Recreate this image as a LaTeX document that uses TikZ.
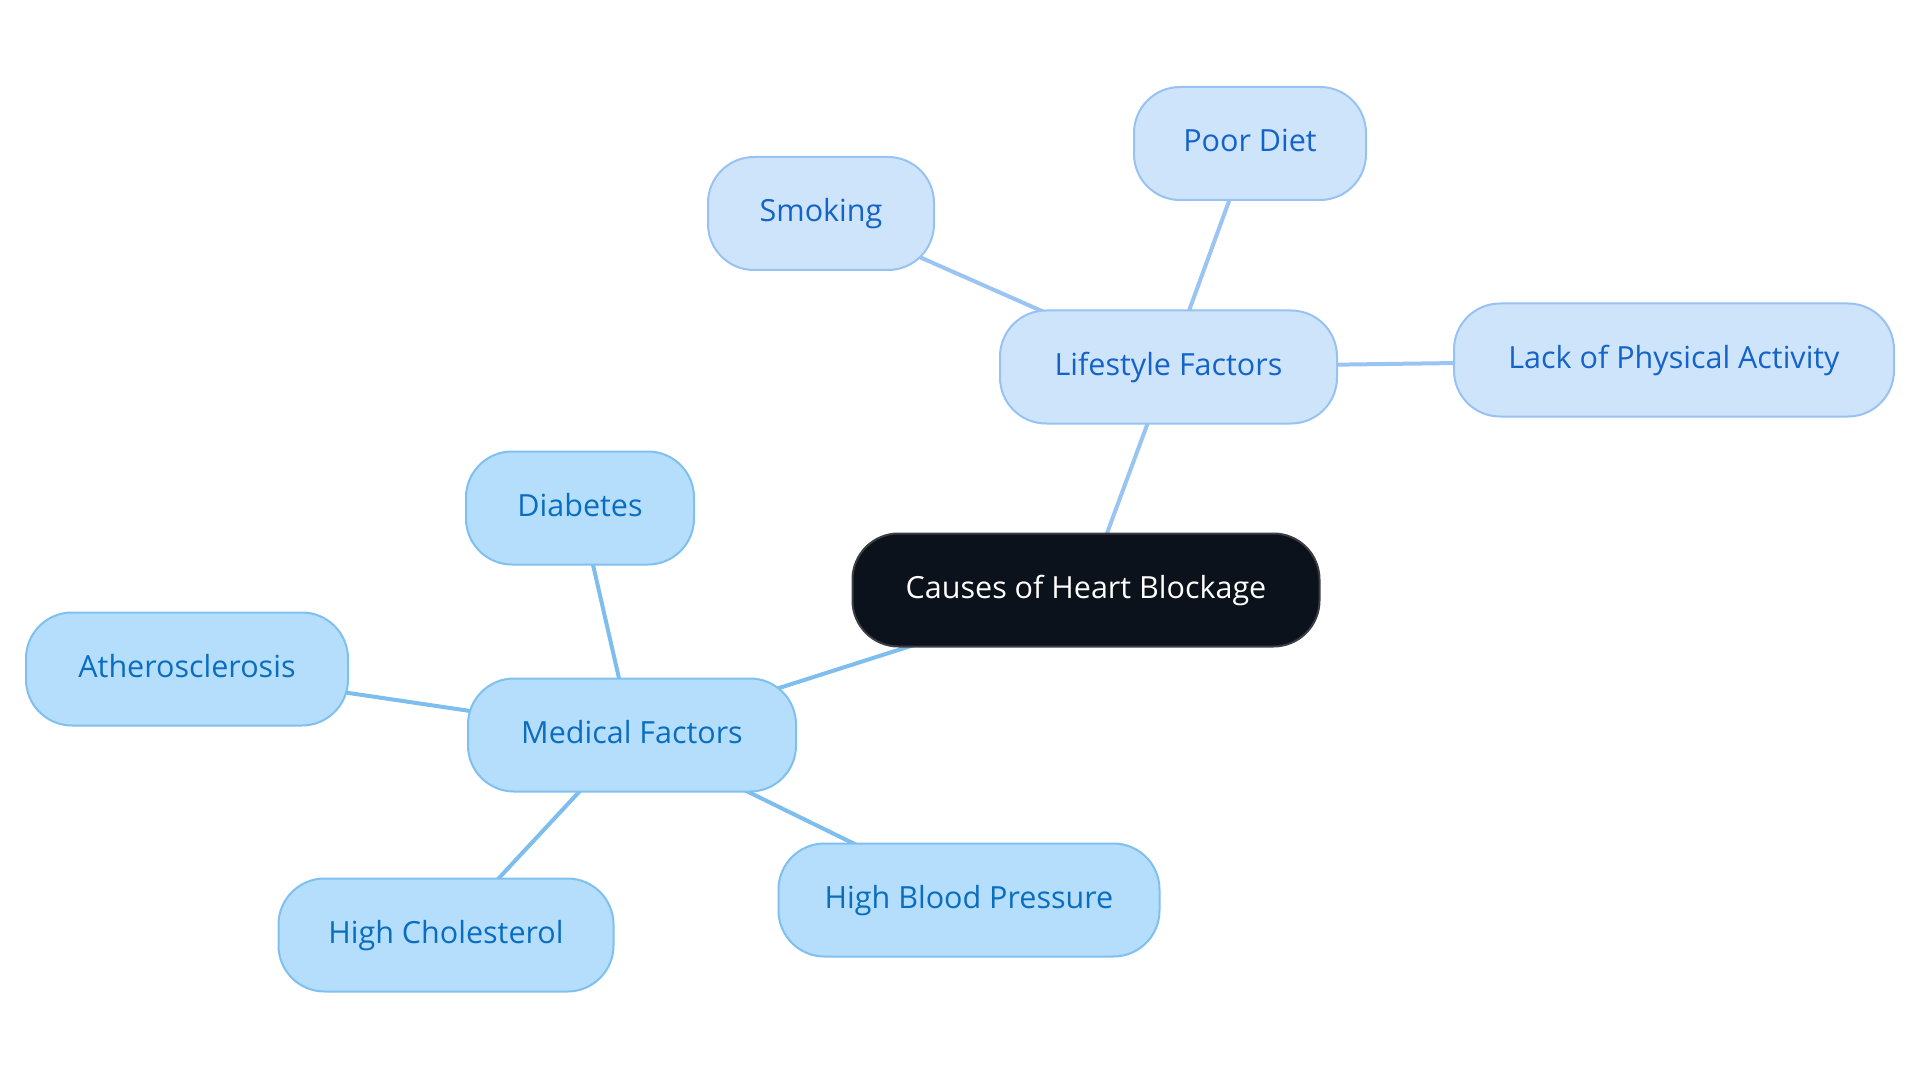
\documentclass[tikz,border=0pt]{standalone}
\usepackage{fontspec}
\setmainfont{Open Sans}
\usetikzlibrary{backgrounds}
\definecolor{rootfill}{HTML}{0C121B}
\definecolor{rootline}{HTML}{3A3D42}
\definecolor{lsfill}{HTML}{CEE4FB}
\definecolor{lsline}{HTML}{97C2F1}
\definecolor{lstext}{HTML}{1463C8}
\definecolor{mdfill}{HTML}{B4DEFC}
\definecolor{mdline}{HTML}{7FC0EE}
\definecolor{mdtext}{HTML}{0A6DBE}
\definecolor{lsedge}{HTML}{9AC4F2}
\definecolor{mdedge}{HTML}{7DBEEF}
\tikzset{
  box/.style={rectangle, rounded corners=46pt, line width=2pt, minimum height=113pt,
    inner sep=0pt, align=center, text height=22pt, text depth=6pt,
    font=\fontsize{30.5}{36}\selectfont},
  rootbox/.style={box, fill=rootfill, draw=rootline, text=white},
  lsbox/.style={box, fill=lsfill, draw=lsline, text=lstext},
  mdbox/.style={box, fill=mdfill, draw=mdline, text=mdtext},
  lsconn/.style={draw=lsedge, line width=4pt},
  mdconn/.style={draw=mdedge, line width=4pt},
}
\begin{document}
\begin{tikzpicture}[x=1pt,y=-1pt]
\useasboundingbox (0,0) rectangle (1920,1083);
\node[rootbox, minimum width=467pt] (root) at (1086,590) {Causes of Heart Blockage};
\node[lsbox, minimum width=337pt] (life) at (1168.5,367) {Lifestyle Factors};
\node[lsbox, minimum width=232pt] (diet) at (1250,143.5) {Poor Diet};
\node[lsbox, minimum width=226pt] (smok) at (821,213.5) {Smoking};
\node[lsbox, minimum width=440pt] (lack) at (1674,360) {Lack of Physical Activity};
\node[mdbox, minimum width=328pt] (med) at (632,735) {Medical Factors};
\node[mdbox, minimum width=228pt] (diab) at (580,508) {Diabetes};
\node[mdbox, minimum width=322pt] (ath) at (187,669) {Atherosclerosis};
\node[mdbox, minimum width=335pt] (chol) at (446,935) {High Cholesterol};
\node[mdbox, minimum width=381pt] (hbp) at (969,900) {High Blood Pressure};
\begin{pgfonlayer}{background}
\path[lsconn] (root.center) -- (life.center);
\path[lsconn] (life.center) -- (diet.center);
\path[lsconn] (life.center) -- (smok.center);
\path[lsconn] (life.center) -- (lack.center);
\path[mdconn] (root.center) -- (med.center);
\path[mdconn] (med.center) -- (diab.center);
\path[mdconn] (med.center) -- (ath.center);
\path[mdconn] (med.center) -- (chol.center);
\path[mdconn] (med.center) -- (hbp.center);
\end{pgfonlayer}
\end{tikzpicture}
\end{document}
